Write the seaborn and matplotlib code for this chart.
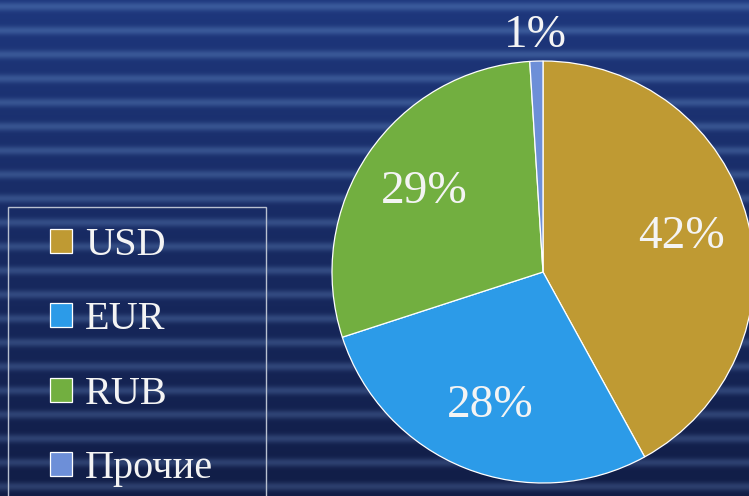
"""
plot.py — currency structure pie chart on a striped navy background.
"""

import numpy as np
import matplotlib
matplotlib.use("Agg")
import matplotlib.pyplot as plt
from matplotlib.patches import Rectangle
import seaborn as sns

# ── Data ──────────────────────────────────────────────────────────────────────
currencies = ["USD", "EUR", "RUB", "Прочие"]
shares     = [42, 28, 29, 1]
colors     = ["#BF9A33", "#2C9BE8", "#72AF40", "#6D8FD8"]

sns.set_theme(style="dark")
plt.rcParams["font.family"] = ["Liberation Serif", "DejaVu Serif"]

W, H = 749, 496
fig = plt.figure(figsize=(W / 100, H / 100), dpi=100)

# ── Background: navy gradient with soft horizontal stripes ────────────────────
y = np.arange(H)[:, None]
t = y / H
dark  = np.array([30, 55, 125]) * (1 - t) + np.array([17, 29, 70]) * t
light = np.array([58, 90, 155]) * (1 - t) + np.array([44, 62, 108]) * t
w = ((1 + np.sin(2 * np.pi * y / 24.0)) / 2) ** 3
img = (dark * (1 - w) + light * w) / 255.0
img = np.repeat(img[:, None, :], W, axis=1).reshape(H, W, 3)

bg = fig.add_axes([0, 0, 1, 1])
bg.imshow(img, aspect="auto", extent=[0, 1, 0, 1], interpolation="bilinear")
bg.set_axis_off()

# legend frame
bg.add_patch(Rectangle((8 / W, -0.05), (266 - 8) / W, 0.05 + (H - 207) / H,
                       transform=bg.transAxes, fill=False,
                       edgecolor="#B8C0D0", linewidth=1.0, zorder=3))

# ── Pie ───────────────────────────────────────────────────────────────────────
r_px = 211
cx, cy = 543, 272
ax = fig.add_axes([(cx - r_px) / W, (H - cy - r_px) / H, 2 * r_px / W, 2 * r_px / H])
ax.set_facecolor("none")

wedges, _, autotexts = ax.pie(
    shares,
    colors=colors,
    startangle=90,
    counterclock=False,
    autopct="%d%%",
    pctdistance=0.68,
    wedgeprops=dict(edgecolor="white", linewidth=0.9),
    textprops=dict(color="#F4F4F4", fontsize=34),
)
ax.set_xlim(-1, 1)
ax.set_ylim(-1, 1)
ax.set_aspect("equal")

# push the tiny slice label outside the pie
for wedge, txt, val in zip(wedges, autotexts, shares):
    if val < 5:
        ang = np.deg2rad((wedge.theta1 + wedge.theta2) / 2)
        txt.set_position((1.12 * np.cos(ang), 1.12 * np.sin(ang)))

# ── Legend ────────────────────────────────────────────────────────────────────
fig.legend(
    wedges, currencies,
    loc="upper left",
    bbox_to_anchor=(50 / W, 1 - 227 / H),
    frameon=False,
    fontsize=29,
    labelcolor="#F4F4F4",
    handlelength=0.55,
    handleheight=0.55,
    handletextpad=0.32,
    labelspacing=0.93,
    borderpad=0,
    borderaxespad=0,
)

fig.savefig("out.png", dpi=100)
